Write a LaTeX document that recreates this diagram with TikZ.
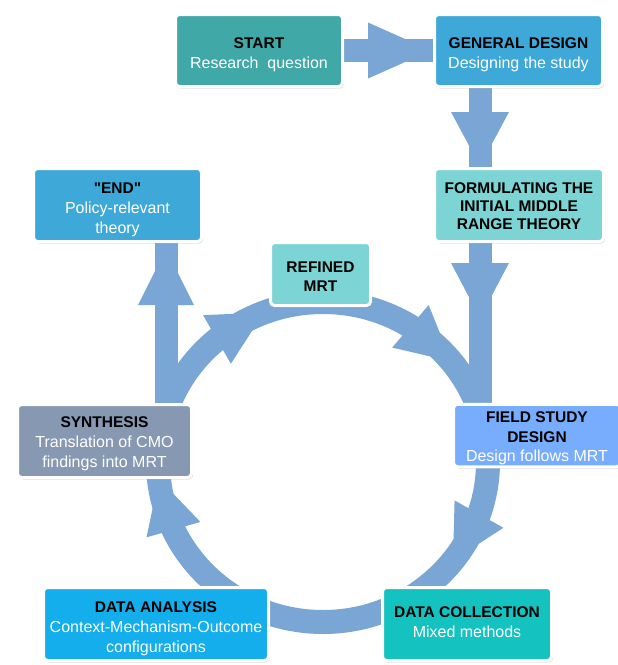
\documentclass[tikz,border=0pt]{standalone}
\usepackage{fontspec}
\setmainfont{Liberation Sans}
\usetikzlibrary{calc,shadows}
\pgfdeclarelayer{background}
\pgfsetlayers{background,main}
\definecolor{arrowc}{RGB}{121,166,212}
\definecolor{cStart}{RGB}{64,168,166}
\definecolor{cBlue}{RGB}{62,169,216}
\definecolor{cLight}{RGB}{124,213,212}
\definecolor{cSyn}{RGB}{135,152,178}
\definecolor{cField}{RGB}{119,173,252}
\definecolor{cAna}{RGB}{20,174,236}
\definecolor{cColl}{RGB}{20,194,192}
\newcommand{\boxtitle}[1]{{\fontsize{15.5}{19}\selectfont\bfseries\color{black}#1}}
\newcommand{\bx}[2][3pt]{\raisebox{-#1}[\height][\depth]{\begin{tabular}{@{}c@{}}#2\end{tabular}}}
\newcommand{\qdbl}{\XeTeXglyph5\relax}
\tikzset{
  box/.style={draw=white, line width=3pt, rounded corners=4pt,
    inner sep=2pt, text=white, font=\fontsize{16}{20}\selectfont,
    drop shadow={opacity=0.25, shadow xshift=1.5pt, shadow yshift=-2pt}},
  shaft/.style={draw=arrowc, line width=23pt},
  head/.style={fill=arrowc}
}
\begin{document}
\begin{tikzpicture}[x=1pt,y=-1pt]
\useasboundingbox (0,0) rectangle (618,665);
% columns for vertical connectors
\coordinate (colR) at (480,0);
\coordinate (colL) at (166,0);
% boxes
\node[box, fill=cStart, minimum width=167pt, minimum height=72pt] (start) at (259,50.5)
  {\bx[4pt]{\boxtitle{START}\\Research\ \ question}};
\node[box, fill=cBlue, minimum width=168pt, minimum height=72pt] (gen) at (518.5,50.5)
  {\bx[4pt]{\boxtitle{GENERAL DESIGN}\\Designing the study}};
\node[box, fill=cLight, minimum width=169pt, minimum height=73pt, font=\fontsize{16}{18}\selectfont] (form) at (519,205)
  {\bx[3pt]{\boxtitle{FORMULATING THE}\\\boxtitle{INITIAL MIDDLE}\\\boxtitle{RANGE THEORY}}};
\node[box, fill=cBlue, minimum width=168pt, minimum height=73pt] (end) at (117.5,205)
  {\bx[4pt]{\boxtitle{\qdbl END\qdbl}\\Policy-relevant\\theory}};
\node[box, fill=cLight, minimum width=100pt, minimum height=63pt, font=\fontsize{16}{19}\selectfont] (ref) at (320.5,274)
  {\bx[4pt]{\boxtitle{REFINED}\\\boxtitle{MRT}}};
\node[box, fill=cSyn, minimum width=174pt, minimum height=73pt] (syn) at (104.5,441)
  {\bx[2pt]{\boxtitle{SYNTHESIS}\\Translation of CMO\\findings into MRT}};
\node[box, fill=cField, minimum width=167pt, minimum height=62pt, font=\fontsize{16}{19.5}\selectfont] (fsd) at (537,435.5)
  {\bx[3pt]{\boxtitle{FIELD STUDY}\\\boxtitle{DESIGN}\\Design follows MRT}};
\node[box, fill=cAna, minimum width=225pt, minimum height=73pt] (ana) at (156,624)
  {\bx[4pt]{\boxtitle{DATA ANALYSIS}\\Context-Mechanism-Outcome\\configurations}};
\node[box, fill=cColl, minimum width=169pt, minimum height=73pt] (coll) at (467,624)
  {\bx[-1pt]{\boxtitle{DATA COLLECTION}\\Mixed methods}};
\begin{pgfonlayer}{background}
\fill[white] (0,0) rectangle (618,665);
% cycle ring
\draw[arrowc, line width=24pt] (323,462) ellipse [x radius=165, y radius=160];
\foreach \t in {130,58,-19,205}{
  \coordinate (P) at ({323+165*cos(\t)},{462-160*sin(\t)});
  \coordinate (A) at ({323+165*cos(\t-19)},{462-160*sin(\t-19)});
  \fill[head] ($(P)!28pt!90:(A)$) -- (A) -- ($(P)!28pt!-90:(A)$) -- cycle;
}
% straight connectors
\draw[shaft] (start.east) -- (gen.west);
\fill[head] (368,22.5) -- (431,50.5) -- (368,78.5) -- cycle;
\draw[shaft] (gen.south -| colR) -- (form.north -| colR);
\fill[head] (451,112) -- (480,166) -- (509,112) -- cycle;
\draw[shaft] (form.south -| colR) -- (fsd.north -| colR);
\fill[head] (451,263) -- (480,318) -- (509,263) -- cycle;
\draw[shaft] (syn.north -| colL) -- (end.south -| colL);
\fill[head] (138,305) -- (166,249) -- (194,305) -- cycle;
\end{pgfonlayer}
\end{tikzpicture}
\end{document}
